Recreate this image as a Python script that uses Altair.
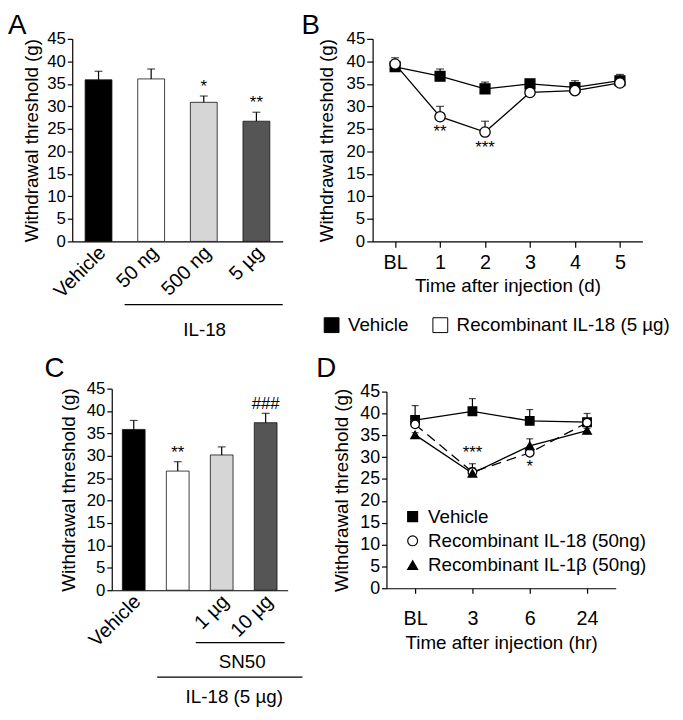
import altair as alt
import pandas as pd

FONT = "Liberation Sans"

# ---------------- Panel A ----------------
a_groups = ["Vehicle", "50 ng", "500 ng", "5 µg"]
a_means = [35.9, 36.1, 30.9, 26.7]
a_errs = [1.9, 2.2, 1.4, 2.0]
a_sig = ["", "", "*", "**"]
a_colors = ["#000000", "#ffffff", "#d6d6d6", "#555555"]

# ---------------- Panel B ----------------
b_times = ["BL", "1", "2", "3", "4", "5"]
b_series = ["Vehicle", "Recombinant IL-18 (5 µg)"]
b_vehicle = [38.8, 36.7, 33.9, 35.0, 34.2, 35.7]
b_vehicle_err = [1.0, 1.6, 1.5, 0.8, 1.5, 1.4]
b_il18 = [39.4, 27.7, 24.3, 33.1, 33.5, 35.2]
b_il18_err = [1.4, 2.3, 2.4, 0.8, 1.0, 1.0]
b_il18_sig = ["", "**", "***", "", "", ""]

# ---------------- Panel C ----------------
c_groups = ["Vehicle", "IL-18 (5 µg)", "1 µg", "10 µg"]
c_means = [35.9, 26.6, 30.2, 37.4]
c_errs = [2.0, 2.1, 1.8, 2.1]
c_sig = ["", "**", "", "###"]
c_colors = ["#000000", "#ffffff", "#d6d6d6", "#555555"]

# ---------------- Panel D ----------------
d_times = ["BL", "3", "6", "24"]
d_series = ["Vehicle", "Recombinant IL-18 (50ng)", "Recombinant IL-1β (50ng)"]
d_vehicle = [38.5, 40.5, 38.3, 38.0]
d_vehicle_err = [3.3, 2.9, 2.6, 2.0]
d_il18 = [37.5, 26.6, 31.0, 37.9]
d_il18_err = [0.5, 1.9, 0.8, 0.8]
d_il1b = [35.1, 26.3, 32.6, 36.1]
d_il1b_err = [0.5, 1.2, 1.6, 0.5]
d_sig_above = ["", "***", "", ""]
d_sig_below = ["", "", "*", ""]

Y_TITLE = "Withdrawal threshold (g)"
W, H = 675, 704
one = pd.DataFrame({"k": [0]})


def make_y(y_bottom, y_top, x_axis, pad, tick=5, lsize=17):
    scale = alt.Scale(domain=[0, 45], nice=False, range=[y_bottom, y_top])
    axis = alt.Axis(orient="left", offset=-x_axis, values=list(range(0, 46, 5)),
                    title=Y_TITLE, tickSize=tick, labelPadding=2, labelFontSize=lsize,
                    titleFontSize=19, titlePadding=pad)
    return lambda field: alt.Y(f"{field}:Q", scale=scale, axis=axis, title=Y_TITLE)


def letter(t, x, y):
    return alt.Chart(one).mark_text(text=t, fontSize=28, align="left", baseline="top",
                                    color="black").encode(x=alt.value(x), y=alt.value(y))


def hline(x0, x1, y):
    return alt.Chart(one).mark_rule(color="black", strokeWidth=1.3).encode(
        x=alt.value(x0), x2=alt.value(x1), y=alt.value(y))


def label(t, x, y):
    return alt.Chart(one).mark_text(text=t, fontSize=19, align="center", baseline="middle",
                                    color="black").encode(x=alt.value(x), y=alt.value(y))


def bar_panel(groups, means, errs, sig, colors, xr, yr, pad_inner, title_pad, label_expr=None):
    Y = make_y(yr[0], yr[1], xr[0], title_pad)
    df = pd.DataFrame({"group": groups, "mean": means, "err": errs, "sig": sig})
    df["top"] = df["mean"] + df["err"]
    axis_kw = dict(orient="bottom", offset=-(H - yr[0]), title=None, labelAngle=-45,
                   labelAlign="right", labelBaseline="middle", ticks=False, labelPadding=8,
                   labelOffset=4, labelFontSize=20)
    if label_expr:
        axis_kw["labelExpr"] = label_expr
    x = alt.X("group:N", sort=groups,
              scale=alt.Scale(domain=groups, range=list(xr), paddingInner=pad_inner,
                              paddingOuter=pad_inner / 2),
              axis=alt.Axis(**axis_kw))
    base = alt.Chart(df)
    bars = base.mark_bar(stroke="#111111", strokeWidth=0.8).encode(
        x=x, y=Y("mean"),
        fill=alt.Fill("group:N", scale=alt.Scale(domain=groups, range=colors), legend=None))
    err = base.mark_rule(color="black", strokeWidth=1.2).encode(x=x, y=Y("mean"), y2="top:Q")
    cap = base.mark_tick(orient="horizontal", size=8, thickness=1.2, color="black").encode(
        x=x, y=Y("top"))
    txt = base.mark_text(dy=-9, fontSize=17, color="black").encode(
        x=x, y=Y("top"), text="sig:N")
    return alt.layer(bars, err, cap, txt)


def line_df(times, series, means_list, errs_list, extra=None):
    rows = []
    for s, m, e in zip(series, means_list, errs_list):
        for i, t in enumerate(times):
            r = {"time": t, "series": s, "mean": m[i], "top": m[i] + e[i]}
            if extra:
                for k, (ser, vals) in extra.items():
                    r[k] = vals[i] if s == ser else ""
            rows.append(r)
    return pd.DataFrame(rows)


def point_x(times, xr, yaxis_pos, title, pad_lab, tick):
    return alt.X("time:N", sort=times,
                 scale=alt.Scale(type="point", domain=times, range=list(xr), padding=0.5),
                 axis=alt.Axis(orient="bottom", offset=-(H - yaxis_pos), title=title,
                               labelAngle=0, tickSize=tick, labelPadding=pad_lab,
                               labelFontSize=20, titleFontSize=19, titlePadding=5))


# ---- Panel A  (plot: x 65..278, y 232..27)
panelA = bar_panel(a_groups, a_means, a_errs, a_sig, a_colors, (65, 278), (232, 27), 0.49, 5)

# ---- Panel C  (plot: x 105..283, y 585..381)
panelC = bar_panel(c_groups, c_means, c_errs, c_sig, c_colors, (105, 283), (585, 381), 0.483, 8,
                   label_expr="indexof(['IL-18 (5 µg)'], datum.value) >= 0 ? '' : datum.label")

# ---- Panel B  (plot: x 369..642, y 232..27)
YB = make_y(232, 27, 369, 10, tick=6)
xB = point_x(b_times, (369, 642), 232, "Time after injection (d)", 5, 6)
dfB = line_df(b_times, b_series, [b_vehicle, b_il18], [b_vehicle_err, b_il18_err],
              extra={"sig": (b_series[1], b_il18_sig)})
baseB = alt.Chart(dfB)
legB = alt.Legend(title=None, orient="none", legendX=318, legendY=307, direction="horizontal",
                  symbolType="square", symbolSize=225, symbolStrokeColor="black",
                  symbolStrokeWidth=1, labelFontSize=19, labelFont=FONT, columnPadding=22,
                  labelOffset=7, padding=0, labelLimit=400)
fillB = alt.Fill("series:N", scale=alt.Scale(domain=b_series, range=["black", "white"]),
                 legend=legB)
linesB = baseB.mark_line(color="black", strokeWidth=1.3).encode(
    x=xB, y=YB("mean"), detail="series:N")
errB = baseB.mark_rule(color="black", strokeWidth=1.2).encode(x=xB, y=YB("mean"), y2="top:Q")
capB = baseB.mark_tick(orient="horizontal", size=8, thickness=1.2, color="black").encode(
    x=xB, y=YB("top"))
sqB = baseB.transform_filter(alt.datum.series == b_series[0]).mark_point(
    shape="square", size=100, stroke="black", strokeWidth=1.3, opacity=1, filled=True).encode(
    x=xB, y=YB("mean"), fill=fillB)
ciB = baseB.transform_filter(alt.datum.series == b_series[1]).mark_point(
    shape="circle", size=110, stroke="black", strokeWidth=1.3, opacity=1, filled=True).encode(
    x=xB, y=YB("mean"), fill=fillB)
sigB = baseB.mark_text(dy=16, fontSize=17, color="black").encode(
    x=xB, y=YB("mean"), text="sig:N")
panelB = alt.layer(linesB, errB, capB, sqB, ciB, sigB)

# ---- Panel D  (plot: x 383..615, y 583..384)
YD = make_y(583, 384, 383, 8, lsize=18)
xD = point_x(d_times, (383, 615), 583, "Time after injection (hr)", 16, 5)
dfD = line_df(d_times, d_series, [d_vehicle, d_il18, d_il1b],
              [d_vehicle_err, d_il18_err, d_il1b_err],
              extra={"above": (d_series[1], d_sig_above), "below": (d_series[1], d_sig_below)})
baseD = alt.Chart(dfD)
legD = alt.Legend(title=None, orient="none", legendX=400, legendY=501, direction="vertical",
                  symbolSize=100, symbolStrokeColor="black", symbolStrokeWidth=1.2,
                  labelFontSize=19, labelFont=FONT, labelOffset=6, rowPadding=4.5, padding=0,
                  labelLimit=400)
solidD = baseD.transform_filter(alt.datum.series != d_series[1]).mark_line(
    color="black", strokeWidth=1.3).encode(x=xD, y=YD("mean"), detail="series:N")
dashD = baseD.transform_filter(alt.datum.series == d_series[1]).mark_line(
    color="black", strokeWidth=1.3, strokeDash=[10, 6]).encode(x=xD, y=YD("mean"))
errD = baseD.mark_rule(color="black", strokeWidth=1.2).encode(x=xD, y=YD("mean"), y2="top:Q")
capD = baseD.mark_tick(orient="horizontal", size=7, thickness=1.2, color="black").encode(
    x=xD, y=YD("top"))
ptsD = baseD.mark_point(size=75, strokeWidth=1.3, opacity=1, filled=True).encode(
    x=xD, y=YD("mean"),
    shape=alt.Shape("series:N", scale=alt.Scale(domain=d_series,
                                                 range=["square", "circle", "triangle-up"]),
                    legend=legD),
    fill=alt.Fill("series:N", scale=alt.Scale(domain=d_series, range=["black", "white", "black"]),
                  legend=legD),
    stroke=alt.Stroke("series:N", scale=alt.Scale(domain=d_series,
                                                   range=["black", "black", "black"]),
                      legend=legD))
sigD1 = baseD.mark_text(dy=-11, fontSize=17, color="black").encode(
    x=xD, y=YD("top"), text="above:N")
sigD2 = baseD.mark_text(dy=14, fontSize=17, color="black").encode(
    x=xD, y=YD("mean"), text="below:N")
panelD = alt.layer(solidD, dashD, errD, capD, ptsD, sigD1, sigD2)

annotations = alt.layer(
    letter("A", 0, 0), letter("B", 297, 0), letter("C", 37, 347), letter("D", 312, 347),
    hline(118, 278, 296), label("IL-18", 199, 322),
    hline(190, 280, 638), label("SN50", 237, 658),
    hline(151, 298, 673), label("IL-18 (5 µg)", 229, 693),
)

IND = dict(x="independent", y="independent", fill="independent", shape="independent",
           stroke="independent")

chart = alt.layer(panelA, panelB, panelC, panelD, annotations).resolve_scale(
    **IND).resolve_axis(x="independent", y="independent").resolve_legend(
    fill="independent", shape="independent", stroke="independent").properties(
    width=W, height=H, padding=0, background="white"
).configure_view(stroke=None).configure_axis(
    labelFont=FONT, titleFont=FONT, labelColor="black", titleColor="black",
    domainColor="black", tickColor="black", titleFontWeight="normal", grid=False,
    domainWidth=1.2, tickWidth=1.2
).configure_text(font=FONT).configure_legend(labelFont=FONT, labelColor="black")

chart.save("out.html", embed_options={"renderer": "svg", "actions": False})
